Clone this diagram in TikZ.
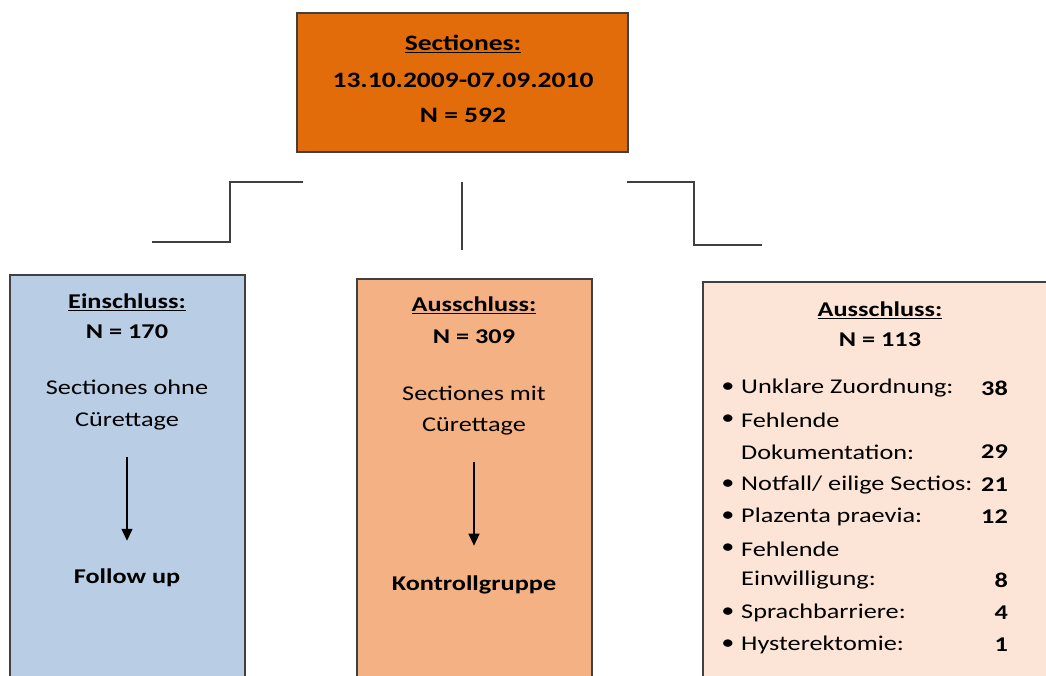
\documentclass[tikz,border=0pt]{standalone}
\usepackage{fontspec}
\setmainfont{Carlito}[FakeStretch=1.25]
\usetikzlibrary{arrows.meta}
\definecolor{topor}{RGB}{226,108,10}
\definecolor{lblue}{RGB}{185,205,229}
\definecolor{mor}{RGB}{244,177,131}
\definecolor{ror}{RGB}{252,228,214}
\definecolor{edge}{RGB}{64,64,64}
\tikzset{
  box/.style={draw=edge, line width=1.5pt, inner sep=0pt},
  conn/.style={draw=edge, line width=2pt},
  txt/.style={inner sep=0pt, font=\fontsize{21}{25}\selectfont},
  btxt/.style={inner sep=0pt, font=\fontsize{21}{25}\selectfont\bfseries},
  ttxt/.style={inner sep=0pt, font=\fontsize{22}{26}\selectfont\bfseries},
  arr/.style={draw=black, line width=1.3pt, -{Triangle[length=12pt,width=11pt]}},
}
\begin{document}
\begin{tikzpicture}[x=1pt,y=-1pt]
\useasboundingbox (0,0) rectangle (1046,675);
% boxes
\node[box, fill=topor, minimum width=331pt, minimum height=139pt] (top) at (462.5,82.5) {};
\node[box, fill=lblue, minimum width=235pt, minimum height=430pt] (left) at (127.5,490) {};
\node[box, fill=mor, minimum width=235pt, minimum height=430pt] (mid) at (474.5,494) {};
\node[box, fill=ror, minimum width=400pt, minimum height=430pt] (right) at (903,497) {};
% top text
\node[ttxt] (t1) at (463,44) {\underline{Sectiones:}};
\node[ttxt] (t2) at (463,80) {13.10.2009-07.09.2010};
\node[ttxt] (t3) at (463,115) {N = 592};
% connectors
\coordinate (l1) at (303,182);
\coordinate (l2) at (152,242);
\draw[conn] (l1) -- ++(-73,0) |- (l2);
\coordinate (m1) at (462,182);
\coordinate (m2) at (462,250);
\draw[conn] (m1) -- (m2);
\coordinate (r1) at (627,182);
\coordinate (r2) at (762,245);
\draw[conn] (r1) -- ++(67,0) |- (r2);
% left box text
\node[btxt] (e1) at (127,302) {\underline{Einschluss:}};
\node[btxt] (e2) at (127,332) {N = 170};
\node[txt] (e3) at (127,387) {Sectiones ohne};
\node[txt] (e4) at (127,421) {Cürettage};
\node[btxt] (e5) at (127,578) {Follow up};
\draw[arr, shorten <=27pt, shorten >=28pt] (e4.south) -- (e5.north);
% middle box text
\node[btxt] (a1) at (474,305) {\underline{Ausschluss:}};
\node[btxt] (a2) at (474,337) {N = 309};
\node[txt] (a3) at (474,393) {Sectiones mit};
\node[txt] (a4) at (474,426) {Cürettage};
\node[btxt] (a5) at (474,585) {Kontrollgruppe};
\draw[arr, shorten <=27pt, shorten >=30pt] (a4.south) -- (a5.north);
% right box text
\node[btxt] (b1) at (880,310) {\underline{Ausschluss:}};
\node[btxt] (b2) at (880,340) {N = 113};
\foreach \y/\name/\t/\bul/\num in {
  388/r1/{Unklare Zuordnung:}/1/38,
  420/r2/{Fehlende}/1/{},
  452/r3/{Dokumentation:}/0/29,
  485/r4/{Notfall/ eilige Sectios:}/1/21,
  517/r5/{Plazenta praevia:}/1/12,
  549/r6/{Fehlende}/1/{},
  580/r7/{Einwilligung:}/0/8,
  613/r8/{Sprachbarriere:}/1/4,
  645/r9/{Hysterektomie:}/1/1}{
  \node[txt, anchor=west] (\name t) at (741,\y) {\t};
  \ifnum\bul=1 \node[txt] (\name b) at (728,\y) {\textbullet}; \fi
  \node[btxt, anchor=east] (\name n) at (1008,\y) {\num};
}
\end{tikzpicture}
\end{document}
